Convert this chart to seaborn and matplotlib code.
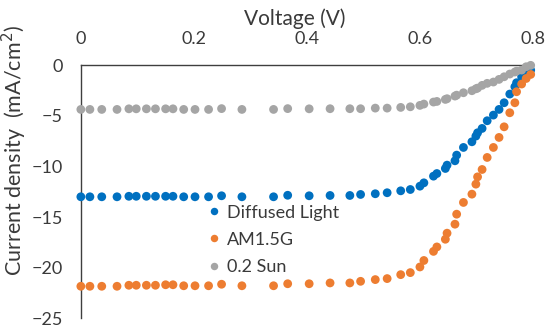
import matplotlib
matplotlib.use("Agg")
import matplotlib.pyplot as plt
import numpy as np
import pandas as pd
import seaborn as sns

# sweep voltages (V)
voltage = [0.000, 0.016, 0.037, 0.064, 0.085, 0.098, 0.116, 0.132, 0.150, 0.163,
           0.182, 0.202, 0.226, 0.249, 0.285, 0.341, 0.366, 0.404, 0.441, 0.476,
           0.495, 0.521, 0.542, 0.566, 0.583, 0.600, 0.607, 0.624, 0.630, 0.645,
           0.648, 0.662, 0.665, 0.677, 0.692, 0.699, 0.702, 0.710, 0.719, 0.730,
           0.740, 0.749, 0.759, 0.768, 0.771, 0.780, 0.788, 0.796]

diffused = [-13.0, -13.0, -13.0, -13.0, -12.95, -12.95, -12.95, -12.95, -12.95, -12.95,
            -13.0, -13.0, -13.0, -12.9, -13.0, -13.0, -12.85, -12.9, -12.87, -12.87,
            -12.77, -12.7, -12.6, -12.41, -12.28, -11.95, -11.62, -10.96, -10.7, -10.2,
            -9.87, -9.44, -8.88, -8.12, -7.56, -7.0, -6.67, -6.24, -5.48, -4.92,
            -4.36, -3.70, -2.84, -2.12, -1.72, -1.13, -0.73, -0.47]

am15g = [-21.85, -21.85, -21.85, -21.85, -21.75, -21.75, -21.75, -21.75, -21.7, -21.7,
         -21.8, -21.8, -21.8, -21.65, -21.8, -21.8, -21.6, -21.6, -21.52, -21.52,
         -21.36, -21.19, -21.09, -20.7, -20.5, -19.94, -19.3, -18.4, -17.96, -17.2,
         -16.6, -15.71, -14.72, -13.56, -12.74, -11.75, -11.03, -10.30, -9.11, -8.12,
         -7.13, -6.08, -4.69, -3.70, -2.61, -1.85, -1.3, -0.9]

sun02 = [-4.36, -4.36, -4.36, -4.36, -4.3, -4.3, -4.3, -4.3, -4.3, -4.3,
         -4.36, -4.36, -4.36, -4.28, -4.36, -4.36, -4.28, -4.3, -4.29, -4.29,
         -4.29, -4.23, -4.23, -4.16, -4.10, -3.96, -3.83, -3.63, -3.57, -3.37,
         -3.30, -3.04, -2.95, -2.71, -2.51, -2.32, -2.25, -1.98, -1.78, -1.65,
         -1.39, -1.13, -0.86, -0.66, -0.58, -0.47, -0.14, 0.0]

series = ['Diffused Light', 'AM1.5G', '0.2 Sun']
colors = ['#0070C0', '#ED7D31', '#A5A5A5']

df = pd.concat([
    pd.DataFrame({'V': voltage, 'J': diffused, 'light': series[0]}),
    pd.DataFrame({'V': voltage, 'J': am15g, 'light': series[1]}),
    pd.DataFrame({'V': voltage, 'J': sun02, 'light': series[2]}),
])

sns.set_style('white')
plt.rcParams['font.family'] = ['Lato', 'DejaVu Sans']
text_color = '#3a3a3a'

fig = plt.figure(figsize=(5.5, 3.3), dpi=100)
ax = fig.add_axes([0.147, 0.036, 0.822, 0.766])

sns.scatterplot(ax=ax, data=df, x='V', y='J', hue='light', hue_order=series,
                palette=colors, s=40, edgecolor='none', zorder=3, clip_on=False)

ax.set_xlim(0, 0.8)
ax.set_ylim(-25, 0)
ax.set_xticks([0, 0.2, 0.4, 0.6, 0.8])
ax.set_xticklabels(['0', '0.2', '0.4', '0.6', '0.8'])
ax.set_yticks([0, -5, -10, -15, -20, -25])
ax.xaxis.tick_top()
ax.xaxis.set_label_position('top')
ax.tick_params(length=0, labelsize=13, colors=text_color)
ax.tick_params(axis='x', pad=13)
ax.tick_params(axis='y', pad=13)
ax.set_xlabel('Voltage (V)', fontsize=15, color=text_color)
ax.xaxis.set_label_coords(0.473, 1.16)
ax.set_ylabel('Current density  (mA/cm$^2$)', fontsize=15.5, color=text_color)
ax.yaxis.set_label_coords(-0.115, 0.665)

for side in ['right', 'bottom']:
    ax.spines[side].set_visible(False)
for side in ['left', 'top']:
    ax.spines[side].set_color('#3f3f3f')
    ax.spines[side].set_linewidth(1.0)

leg = ax.legend(loc='upper left', bbox_to_anchor=(0.258, 0.478), frameon=False,
                fontsize=13, handlelength=1.0, handletextpad=0.25, labelspacing=0.62,
                borderaxespad=0, markerscale=0.85)
for t in leg.get_texts():
    t.set_color(text_color)

fig.savefig('out.png', dpi=100)
